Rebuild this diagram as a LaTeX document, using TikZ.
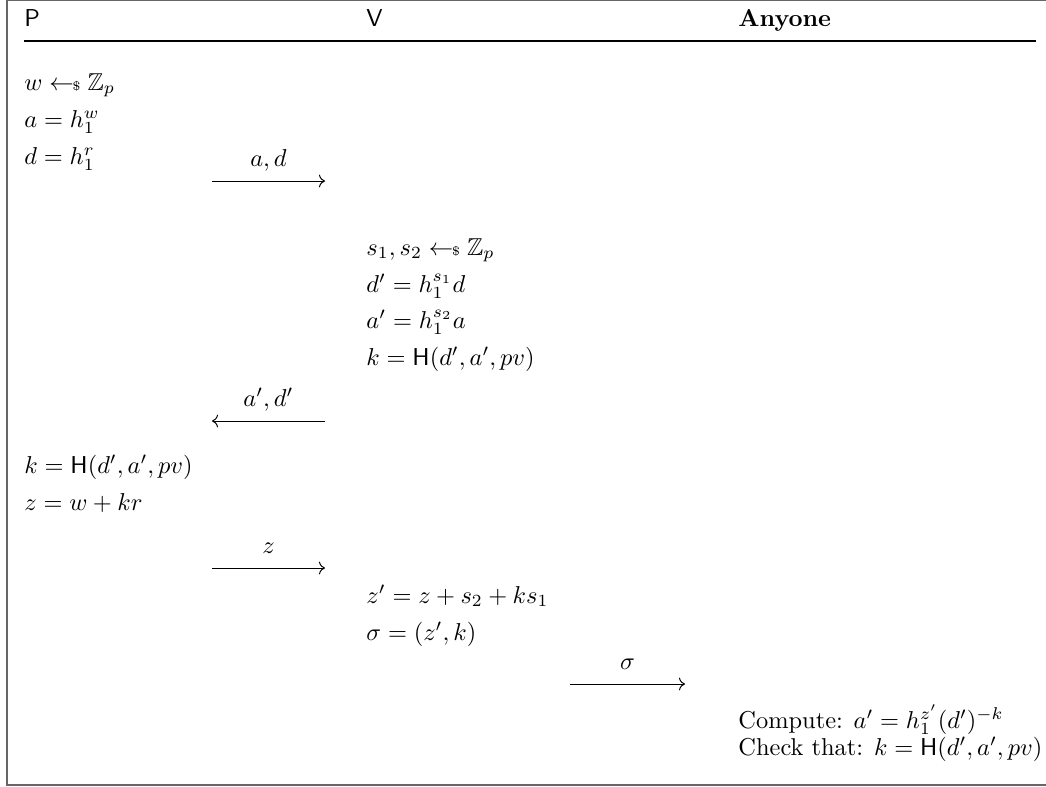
\documentclass[tikz,border=0pt]{standalone}
\usepackage{amsmath,amssymb}
\usepackage{tikz}
\usetikzlibrary{arrows.meta}
\tikzset{
	stepline/.style={anchor=base west, inner sep=0pt}
}
\tikzset{
	msgarrow/.style={->, line width=0.4pt},
	msglabel/.style={anchor=base, yshift=6pt, inner sep=0pt}
}
\newcommand{\sampl}{\mathrel{\gets\!\!\mbox{\tiny\$}}}
\newcommand{\hashH}{\mathsf{H}}

\begin{document}
\begin{tikzpicture}[x=0.0144cm, y=-0.0144cm]
      \useasboundingbox (0,0) rectangle (1046,786);
      % frame and header
      \draw[gray!80!black, line width=0.5pt] (1046,0.5) -- (7,0.5) -- (7,785) -- (1046,785);
      \node[stepline] (hp) at (24,26) {$\mathsf{P}$};
      \node[stepline] (hv) at (366,26) {$\mathsf{V}$};
      \node[stepline] (ha) at (738,26) {\textbf{Anyone}};
      \draw[line width=0.8pt] (24,41) -- (1036,41);
      % prover, first move
      \node[stepline] (p1) at (24,90) {$w \sampl \mathbb{Z}_p$};
      \node[stepline] (p2) at (24,127) {$a = h_1^w$};
      \node[stepline] (p3) at (24,164) {$d = h_1^r$};
      \coordinate (m1s) at (212,181);
      \coordinate (m1e) at (325,181);
      \draw[msgarrow] (m1s) -- node[msglabel] {$a, d$} (m1e);
      % verifier blinds
      \node[stepline] (v1) at (366,255) {$s_1, s_2 \sampl \mathbb{Z}_p$};
      \node[stepline] (v2) at (366,292) {$d' = h_1^{s_1} d$};
      \node[stepline] (v3) at (366,328) {$a' = h_1^{s_2} a$};
      \node[stepline] (v4) at (366,365) {$k = \hashH(d', a', pv)$};
      \coordinate (m2s) at (325,421);
      \coordinate (m2e) at (212,421);
      \draw[msgarrow] (m2s) -- node[msglabel] {$a', d'$} (m2e);
      % prover answers
      \node[stepline] (p4) at (24,473) {$k = \hashH(d', a', pv)$};
      \node[stepline] (p5) at (24,510) {$z = w + kr$};
      \coordinate (m3s) at (212,568);
      \coordinate (m3e) at (325,568);
      \draw[msgarrow] (m3s) -- node[msglabel] {$z$} (m3e);
      % verifier unblinds
      \node[stepline] (v5) at (366,603) {$z' = z + s_2 + ks_1$};
      \node[stepline] (v6) at (366,640) {$\sigma = (z', k)$};
      \coordinate (m4s) at (570,684);
      \coordinate (m4e) at (685,684);
      \draw[msgarrow] (m4s) -- node[msglabel] {$\sigma$} (m4e);
      % public check
      \node[stepline] (a1) at (738,728) {Compute: $a' = h_1^{z'} (d')^{-k}$};
      \node[stepline] (a2) at (738,755) {Check that: $k = \hashH(d', a', pv)$};
    \end{tikzpicture}
\end{document}
